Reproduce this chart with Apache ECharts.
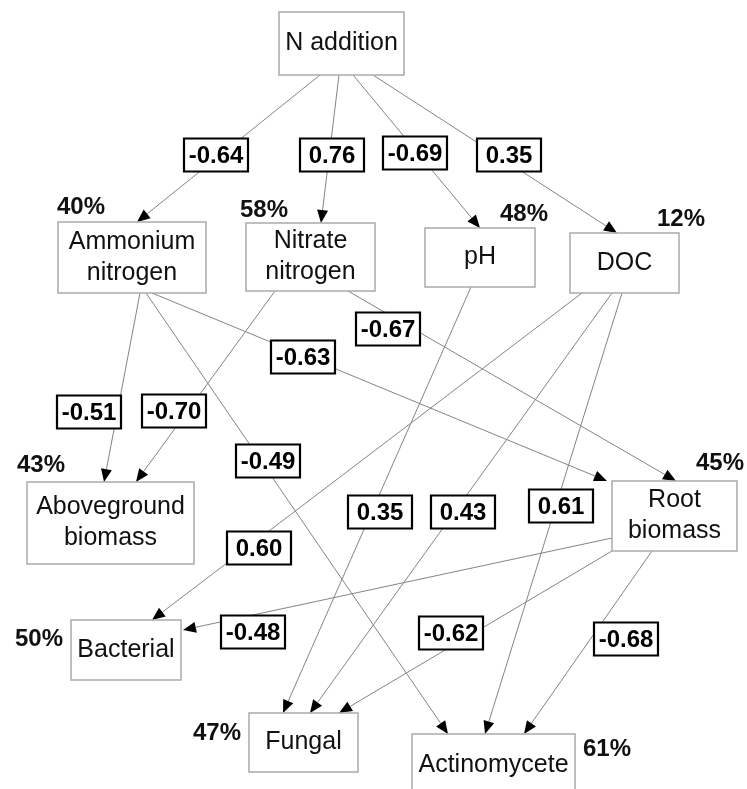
<!DOCTYPE html>
<html><head><meta charset="utf-8">
<script src="https://cdn.jsdelivr.net/npm/echarts@6/dist/echarts.min.js"></script>
<style>html,body{margin:0;padding:0;background:#fff}#c{width:747px;height:789px}</style>
</head><body><div id="c"></div>
<script>
// ---- data ----
const nodeNames = ['N addition','Ammonium\nnitrogen','Nitrate\nnitrogen','pH','DOC','Aboveground\nbiomass','Root\nbiomass','Bacterial','Fungal','Actinomycete'];
const r2Labels = ['', '40%','58%','48%','12%','43%','45%','50%','47%','61%'];
const edgeFrom = [0,0,0,0,1,2,1,2,1,3,4,4,4,6,6,6];
const edgeTo   = [1,2,3,4,5,5,6,6,9,8,7,8,9,7,8,9];
const pathCoef = [-0.64,0.76,-0.69,0.35,-0.51,-0.70,-0.63,-0.67,-0.49,0.35,0.60,0.43,0.61,-0.48,-0.62,-0.68];

// ---- layout (diagram units) ----
const nodeBox = [[279,12,125,63],[58,222,148,71],[246,223,129,68],[425,228,110,59],[570,233,109,60],
  [27,482,167,82],[612,481,125,70],[71,620,110,60],[249,713,109,59],[412,734,163,62]];
const pctPos = [null,[81,207],[264,210],[524,214],[681,219],[41,465],[720,463],[39,639],[217,733],[607,749]];
const edgeStart = [[320,75],[339,75],[353,75],[373,75],[140,293],[275,291],[152,293],[348,291],[146,293],
  [471,287],[582,293],[612,293],[622,293],[612,538],[612,551],[652,551]];
const edgeEnd = [[137,222],[321,223],[480,228],[617,233],[104,482],[136,482],[607,481],[676,481],[448,734],
  [283,713],[152,620],[310,713],[485,734],[183,630],[339,713],[524,734]];
const labelPos = [[216,155],[332,155],[415,153],[509,155],[89,412],[174,411],[303,357],[388,329],[268,461],
  [380,512],[259,548],[463,512],[561,506],[253,632],[451,633],[626,639]];

const FONT = '"Liberation Sans", Arial, sans-serif';

function renderEdge(params, api){
  const i = params.dataIndex;
  const a = api.coord(edgeStart[i]), b = api.coord(edgeEnd[i]);
  const dx = b[0]-a[0], dy = b[1]-a[1], L = Math.hypot(dx,dy);
  const ux = dx/L, uy = dy/L, len = 13, hw = 5.5;
  const bx = b[0]-ux*len, by = b[1]-uy*len;
  return {type:'group', children:[
    {type:'line', shape:{x1:a[0],y1:a[1],x2:bx,y2:by}, style:{stroke:'#858585', lineWidth:1}},
    {type:'polygon', shape:{points:[[b[0],b[1]],[bx-uy*hw,by+ux*hw],[bx+uy*hw,by-ux*hw]]}, style:{fill:'#000'}}
  ]};
}
function renderLabel(params, api){
  const i = params.dataIndex;
  const c = api.coord(labelPos[i]);
  const w = 64, h = 33;
  return {type:'group', children:[
    {type:'rect', shape:{x:c[0]-w/2, y:c[1]-h/2, width:w, height:h}, style:{fill:'#fff', stroke:'#000', lineWidth:2.2}},
    {type:'text', x:c[0], y:c[1]+1, style:{text:pathCoef[i].toFixed(2), font:'bold 24px '+FONT, fill:'#000', align:'center', verticalAlign:'middle'}}
  ]};
}
function renderNode(params, api){
  const i = params.dataIndex;
  const bx = nodeBox[i];
  const p0 = api.coord([bx[0], bx[1]]), p1 = api.coord([bx[0]+bx[2], bx[1]+bx[3]]);
  const ch = [
    {type:'rect', shape:{x:p0[0], y:p0[1], width:p1[0]-p0[0], height:p1[1]-p0[1]}, style:{fill:'#fff', stroke:'#ababab', lineWidth:1.5}},
    {type:'text', x:(p0[0]+p1[0])/2, y:(p0[1]+p1[1])/2, style:{text:nodeNames[i], font:'25px '+FONT, fill:'#111', align:'center', verticalAlign:'middle', lineHeight:31}}
  ];
  if (pctPos[i]) {
    const q = api.coord(pctPos[i]);
    ch.push({type:'text', x:q[0], y:q[1], style:{text:r2Labels[i], font:'bold 24px '+FONT, fill:'#111', align:'center', verticalAlign:'middle'}});
  }
  return {type:'group', children:ch};
}

const chart = echarts.init(document.getElementById('c'));
chart.setOption({
  animation:false,
  backgroundColor:'#fff',
  grid:{left:0,right:0,top:0,bottom:0},
  xAxis:{type:'value', min:0, max:747, show:false},
  yAxis:{type:'value', min:0, max:789, inverse:true, show:false},
  series:[
    {type:'custom', renderItem:renderEdge, z:1, clip:false,
     data: pathCoef.map((v,i)=>[edgeStart[i][0], edgeStart[i][1], v, edgeFrom[i], edgeTo[i]])},
    {type:'custom', renderItem:renderNode, z:2, clip:false,
     data: nodeNames.map((n,i)=>[nodeBox[i][0], nodeBox[i][1], n])},
    {type:'custom', renderItem:renderLabel, z:3, clip:false,
     data: pathCoef.map((v,i)=>[labelPos[i][0], labelPos[i][1], v])}
  ]
});
</script></body></html>
